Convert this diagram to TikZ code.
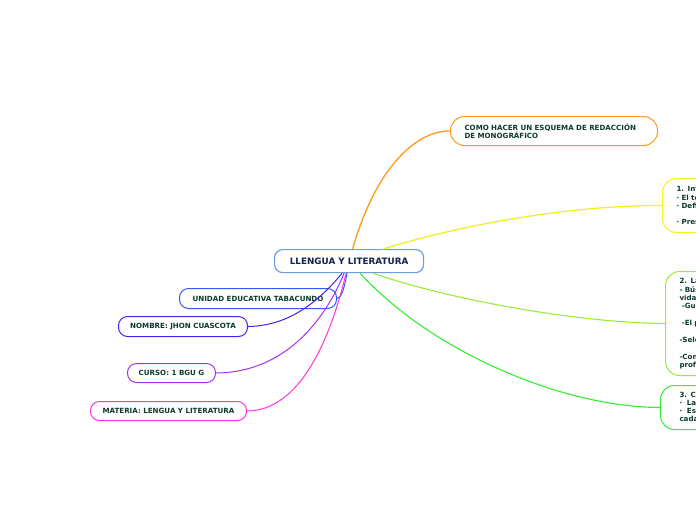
\documentclass[tikz,border=0pt]{standalone}
\usepackage{fontspec}
\setmainfont{DejaVu Sans}
\usetikzlibrary{calc}
\definecolor{cCenter}{HTML}{6AA0D8}
\definecolor{cCenterTxt}{HTML}{15224A}
\definecolor{cTxt}{HTML}{0C3A30}
\definecolor{cOrange}{HTML}{FF9B1A}
\definecolor{cYellow}{HTML}{F2F222}
\definecolor{cLime}{HTML}{99EE33}
\definecolor{cGreen}{HTML}{33EE33}
\definecolor{cUnidad}{HTML}{2F5CFF}
\definecolor{cNombre}{HTML}{4A22EE}
\definecolor{cCurso}{HTML}{A633EE}
\definecolor{cMateria}{HTML}{FF33DD}
\tikzset{
  leaf/.style={draw, fill=white, line width=1pt, rounded corners=9pt,
    font=\fontsize{7.1}{8}\selectfont\bfseries, text=cTxt, inner sep=0pt,
    anchor=north west},
  bigleaf/.style={leaf, rounded corners=14pt, align=left, inner xsep=14pt},
  conn/.style={line width=1pt},
}
\begin{document}
\begin{tikzpicture}[x=1pt,y=-1pt]
\useasboundingbox (0,0) rectangle (696,520);
\fill[white] (0,0) rectangle (696,520);

% central node
\node[draw=cCenter, fill=white, line width=1.2pt, rounded corners=8pt,
  font=\fontsize{8.8}{10}\selectfont\bfseries, text=cCenterTxt,
  minimum width=149pt, minimum height=23pt, inner sep=0pt, anchor=north west]
  (c) at (274,249) {LLENGUA Y LITERATURA};

% right nodes
\node[bigleaf, draw=cOrange, text width=179pt, minimum height=29pt]
  (o) at (450,116) {COMO HACER UN ESQUEMA DE REDACCIÓN\\DE MONOGRÁFICO};

\node[bigleaf, draw=cYellow, text width=200pt, minimum height=54pt,
  font=\fontsize{7.1}{8.2}\selectfont\bfseries]
  (y) at (662,178) {1. Introducción\\· El tema\\· Definición\\\mbox{}\\· Presentación};

\node[bigleaf, draw=cLime, text width=200pt, minimum height=104pt,
  font=\fontsize{7.1}{8.4}\selectfont\bfseries]
  (l) at (665,271) {2. La investigación\\- Búsqueda de información\\vida del autor\\\mbox{}\ -Guía de trabajo\\\mbox{}\\\mbox{}\ -El problema\\\mbox{}\\-Selección del tema\\\mbox{}\\-Consultar a un\\profesional};

\node[bigleaf, draw=cGreen, text width=200pt, minimum height=44pt,
  inner xsep=19pt, font=\fontsize{7.1}{8}\selectfont\bfseries]
  (g) at (660,385) {3. Conclusión\\·\ \ La redacción\\·\ \ Escribir\\cada capítulo};

% left nodes
\node[leaf, draw=cUnidad, minimum width=157pt, minimum height=20pt]
  (u) at (179,288) {UNIDAD EDUCATIVA TABACUNDO};
\node[leaf, draw=cNombre, minimum width=129pt, minimum height=20pt]
  (n) at (118,316) {NOMBRE: JHON CUASCOTA};
\node[leaf, draw=cCurso, minimum width=88pt, minimum height=19pt]
  (cu) at (127,363) {CURSO: 1 BGU G};
\node[leaf, draw=cMateria, minimum width=156pt, minimum height=19pt]
  (m) at (90,401) {MATERIA: LENGUA Y LITERATURA};

% connectors
\draw[conn, cOrange, line width=1.3pt] ([xshift=3.5pt]c.north) .. controls (375,170) and (415,130.5) .. (o.west);
\draw[conn, cYellow, line width=1.3pt] ([xshift=34pt]c.north) .. controls (470,222) and (580,205) .. (y.west);
\draw[conn, cLime, line width=1.1pt] ([xshift=24pt]c.south) .. controls (450,300) and (580,323) .. (l.west);
\draw[conn, cGreen, line width=1.1pt] ([xshift=11pt]c.south) .. controls (430,350) and (560,407) .. (g.west);

\draw[conn, cUnidad] ([xshift=-2pt]c.south) .. controls (344,288) and (342,298) .. (u.east);
\draw[conn, cNombre] ([xshift=-7pt]c.south) .. controls (320,300) and (290,326) .. (n.east);
\draw[conn, cCurso] ([xshift=-5pt]c.south) .. controls (325,320) and (285,372.5) .. (cu.east);
\draw[conn, cMateria] ([xshift=-3pt]c.south) .. controls (330,340) and (300,410.5) .. (m.east);
\end{tikzpicture}
\end{document}
